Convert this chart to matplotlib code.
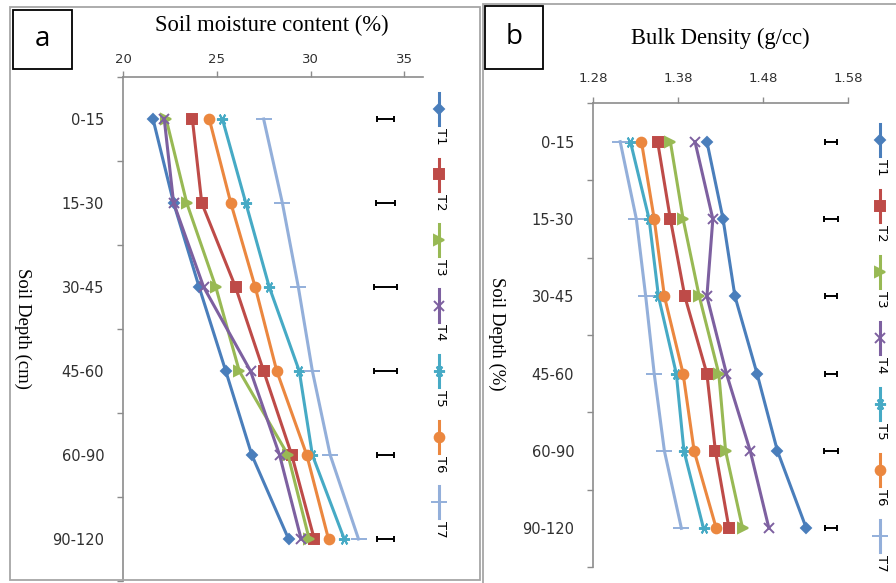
import numpy as np
import matplotlib
matplotlib.use('Agg')
import matplotlib.pyplot as plt
from matplotlib.patches import Rectangle
from matplotlib.lines import Line2D

# Data
depths = ['0-15', '15-30', '30-45', '45-60', '60-90', '90-120']
treatments = ['T1', 'T2', 'T3', 'T4', 'T5', 'T6', 'T7']

# (a) soil moisture content (%)
moist_T1 = [21.6, 22.7, 24.06, 25.48, 26.87, 28.83]
moist_T2 = [23.7, 24.2, 26.0, 27.5, 29.0, 30.2]
moist_T3 = [22.3, 23.4, 24.95, 26.2, 28.8, 29.93]
moist_T4 = [22.2, 22.7, 24.3, 26.8, 28.35, 29.5]
moist_T5 = [25.3, 26.55, 27.8, 29.4, 30.1, 31.8]
moist_T6 = [24.6, 25.75, 27.05, 28.2, 29.8, 30.96]
moist_T7 = [27.5, 28.5, 29.35, 30.1, 31.05, 32.56]
moist_lsd_at = 34.0
moist_lsd = [0.48, 0.53, 0.6, 0.62, 0.46, 0.46]

# (b) bulk density (g/cc)
bd_T1 = [1.414, 1.433, 1.447, 1.473, 1.497, 1.531]
bd_T2 = [1.356, 1.371, 1.388, 1.414, 1.424, 1.440]
bd_T3 = [1.371, 1.386, 1.405, 1.428, 1.436, 1.456]
bd_T4 = [1.400, 1.421, 1.414, 1.437, 1.465, 1.487]
bd_T5 = [1.324, 1.346, 1.357, 1.378, 1.387, 1.410]
bd_T6 = [1.337, 1.352, 1.364, 1.386, 1.399, 1.425]
bd_T7 = [1.312, 1.331, 1.342, 1.352, 1.364, 1.384]
bd_lsd_at = 1.56
bd_lsd = [0.0074, 0.0086, 0.0074, 0.0074, 0.0088, 0.0074]

moist = [moist_T1, moist_T2, moist_T3, moist_T4, moist_T5, moist_T6, moist_T7]
bd = [bd_T1, bd_T2, bd_T3, bd_T4, bd_T5, bd_T6, bd_T7]

# styling (Excel 2007 look)
colors = ['#4A7EBB', '#BE4B48', '#98B954', '#7D60A0', '#46AAC5', '#EB873F', '#93AFDA']
markers = ['D', 's', '>', 'x', (6, 2, 90), 'o', '_']
msizes = [5, 7, 7, 7, 8, 7, 12]
axis_grey = '#8C8C8C'
serif = 'Liberation Serif'

W, H = 896, 583
fig = plt.figure(figsize=(W / 100, H / 100), dpi=100)


def fx(px):
    return px / W


def fy(py):
    return 1 - py / H


def rect(x0, y0, x1, y1):
    return [fx(x0), fy(y1), fx(x1) - fx(x0), fy(y0) - fy(y1)]


# panel frames
fig.add_artist(Rectangle((fx(10), fy(580)), fx(480) - fx(10), fy(7) - fy(580),
                         transform=fig.transFigure, fill=False, ec='#A6A6A6', lw=1.3))
fig.add_artist(Rectangle((fx(483), fy(600)), fx(910) - fx(483), fy(4) - fy(600),
                         transform=fig.transFigure, fill=False, ec='#A6A6A6', lw=1.3))


def draw_panel(ax, series, xlim, xticks, xtick_labels, lsd_at, lsd, xpad):
    ypos = np.arange(len(depths))
    for vals, c, m, ms in zip(series, colors, markers, msizes):
        ax.plot(vals, ypos, color=c, lw=2.2, marker=m, ms=ms, mfc=c, mec=c,
                mew=1.4, clip_on=False)
    ax.errorbar([lsd_at] * len(lsd), ypos, xerr=lsd, fmt='none', ecolor='black',
                elinewidth=1.4, capsize=2.3, capthick=1.4)
    ax.set_xlim(*xlim)
    ax.set_ylim(len(depths) - 0.5, -0.5)
    ax.xaxis.tick_top()
    ax.set_xticks(xticks)
    ax.set_xticklabels(xtick_labels)
    ax.set_yticks(np.arange(-0.5, len(depths), 1))
    ax.set_yticklabels([])
    ax.set_yticks(ypos, minor=True)
    ax.set_yticklabels(depths, minor=True)
    ax.tick_params(axis='x', direction='out', length=4.5, width=1, color=axis_grey,
                   labelsize=9.5, labelcolor='#303030', pad=xpad)
    ax.tick_params(axis='y', which='major', direction='out', length=4.5, width=1,
                   color=axis_grey)
    ax.tick_params(axis='y', which='minor', length=0, labelsize=10.5,
                   labelcolor='#303030', pad=13.5)
    for s in ['right', 'bottom']:
        ax.spines[s].set_visible(False)
    for s in ['top', 'left']:
        ax.spines[s].set_color(axis_grey)
        ax.spines[s].set_linewidth(1.2)
    ax.patch.set_alpha(0)


ax_a = fig.add_axes(rect(123, 77, 423, 581))
draw_panel(ax_a, moist, (20, 36), [20, 25, 30, 35], ['20', '25', '30', '35'],
           moist_lsd_at, moist_lsd, 3.5)

ax_b = fig.add_axes(rect(593, 103, 848, 567))
draw_panel(ax_b, bd, (1.28, 1.58), [1.28, 1.38, 1.48, 1.58],
           ['1.28', '1.38', '1.48', '1.58'], bd_lsd_at, bd_lsd, 8.5)

# titles and axis labels
fig.text(fx(272), fy(25), 'Soil moisture content (%)', family=serif, size=16.3,
         ha='center', va='center')
fig.text(fx(720), fy(38), 'Bulk Density (g/cc)', family=serif, size=16.3,
         ha='center', va='center')
fig.text(fx(23), fy(329), 'Soil Depth (cm)', family=serif, size=13.5,
         rotation=-90, ha='center', va='center')
fig.text(fx(497), fy(334), 'Soil Depth (%)', family=serif, size=13.5,
         rotation=-90, ha='center', va='center')

# panel letters
for x0, y0, x1, y1, letter in [(13, 10, 72, 69, 'a'), (485, 6, 543, 69, 'b')]:
    fig.add_artist(Rectangle((fx(x0), fy(y1)), fx(x1) - fx(x0), fy(y0) - fy(y1),
                             transform=fig.transFigure, fill=False, ec='black', lw=1.3))
    fig.text(fx((x0 + x1) / 2), fy((y0 + y1) / 2), letter, size=20,
             family='Open Sans', ha='center', va='center')


# rotated legends
def draw_legend(x, y_first, step):
    for i, name in enumerate(treatments):
        y = y_first + i * step
        fig.add_artist(Line2D([fx(x), fx(x)], [fy(y - 16), fy(y + 16)],
                              transform=fig.transFigure, color=colors[i], lw=2.2))
        fig.add_artist(Line2D([fx(x)], [fy(y)], transform=fig.transFigure,
                              marker=markers[i], ms=msizes[i], color=colors[i],
                              mfc=colors[i], mec=colors[i], mew=1.4, lw=0))
        fig.text(fx(x + 1), fy(y + 19), name, size=9.5, rotation=-90,
                 ha='center', va='top')


draw_legend(439, 109, 65.5)
draw_legend(880, 140, 66)

fig.savefig('out.png', dpi=100, facecolor='white')
